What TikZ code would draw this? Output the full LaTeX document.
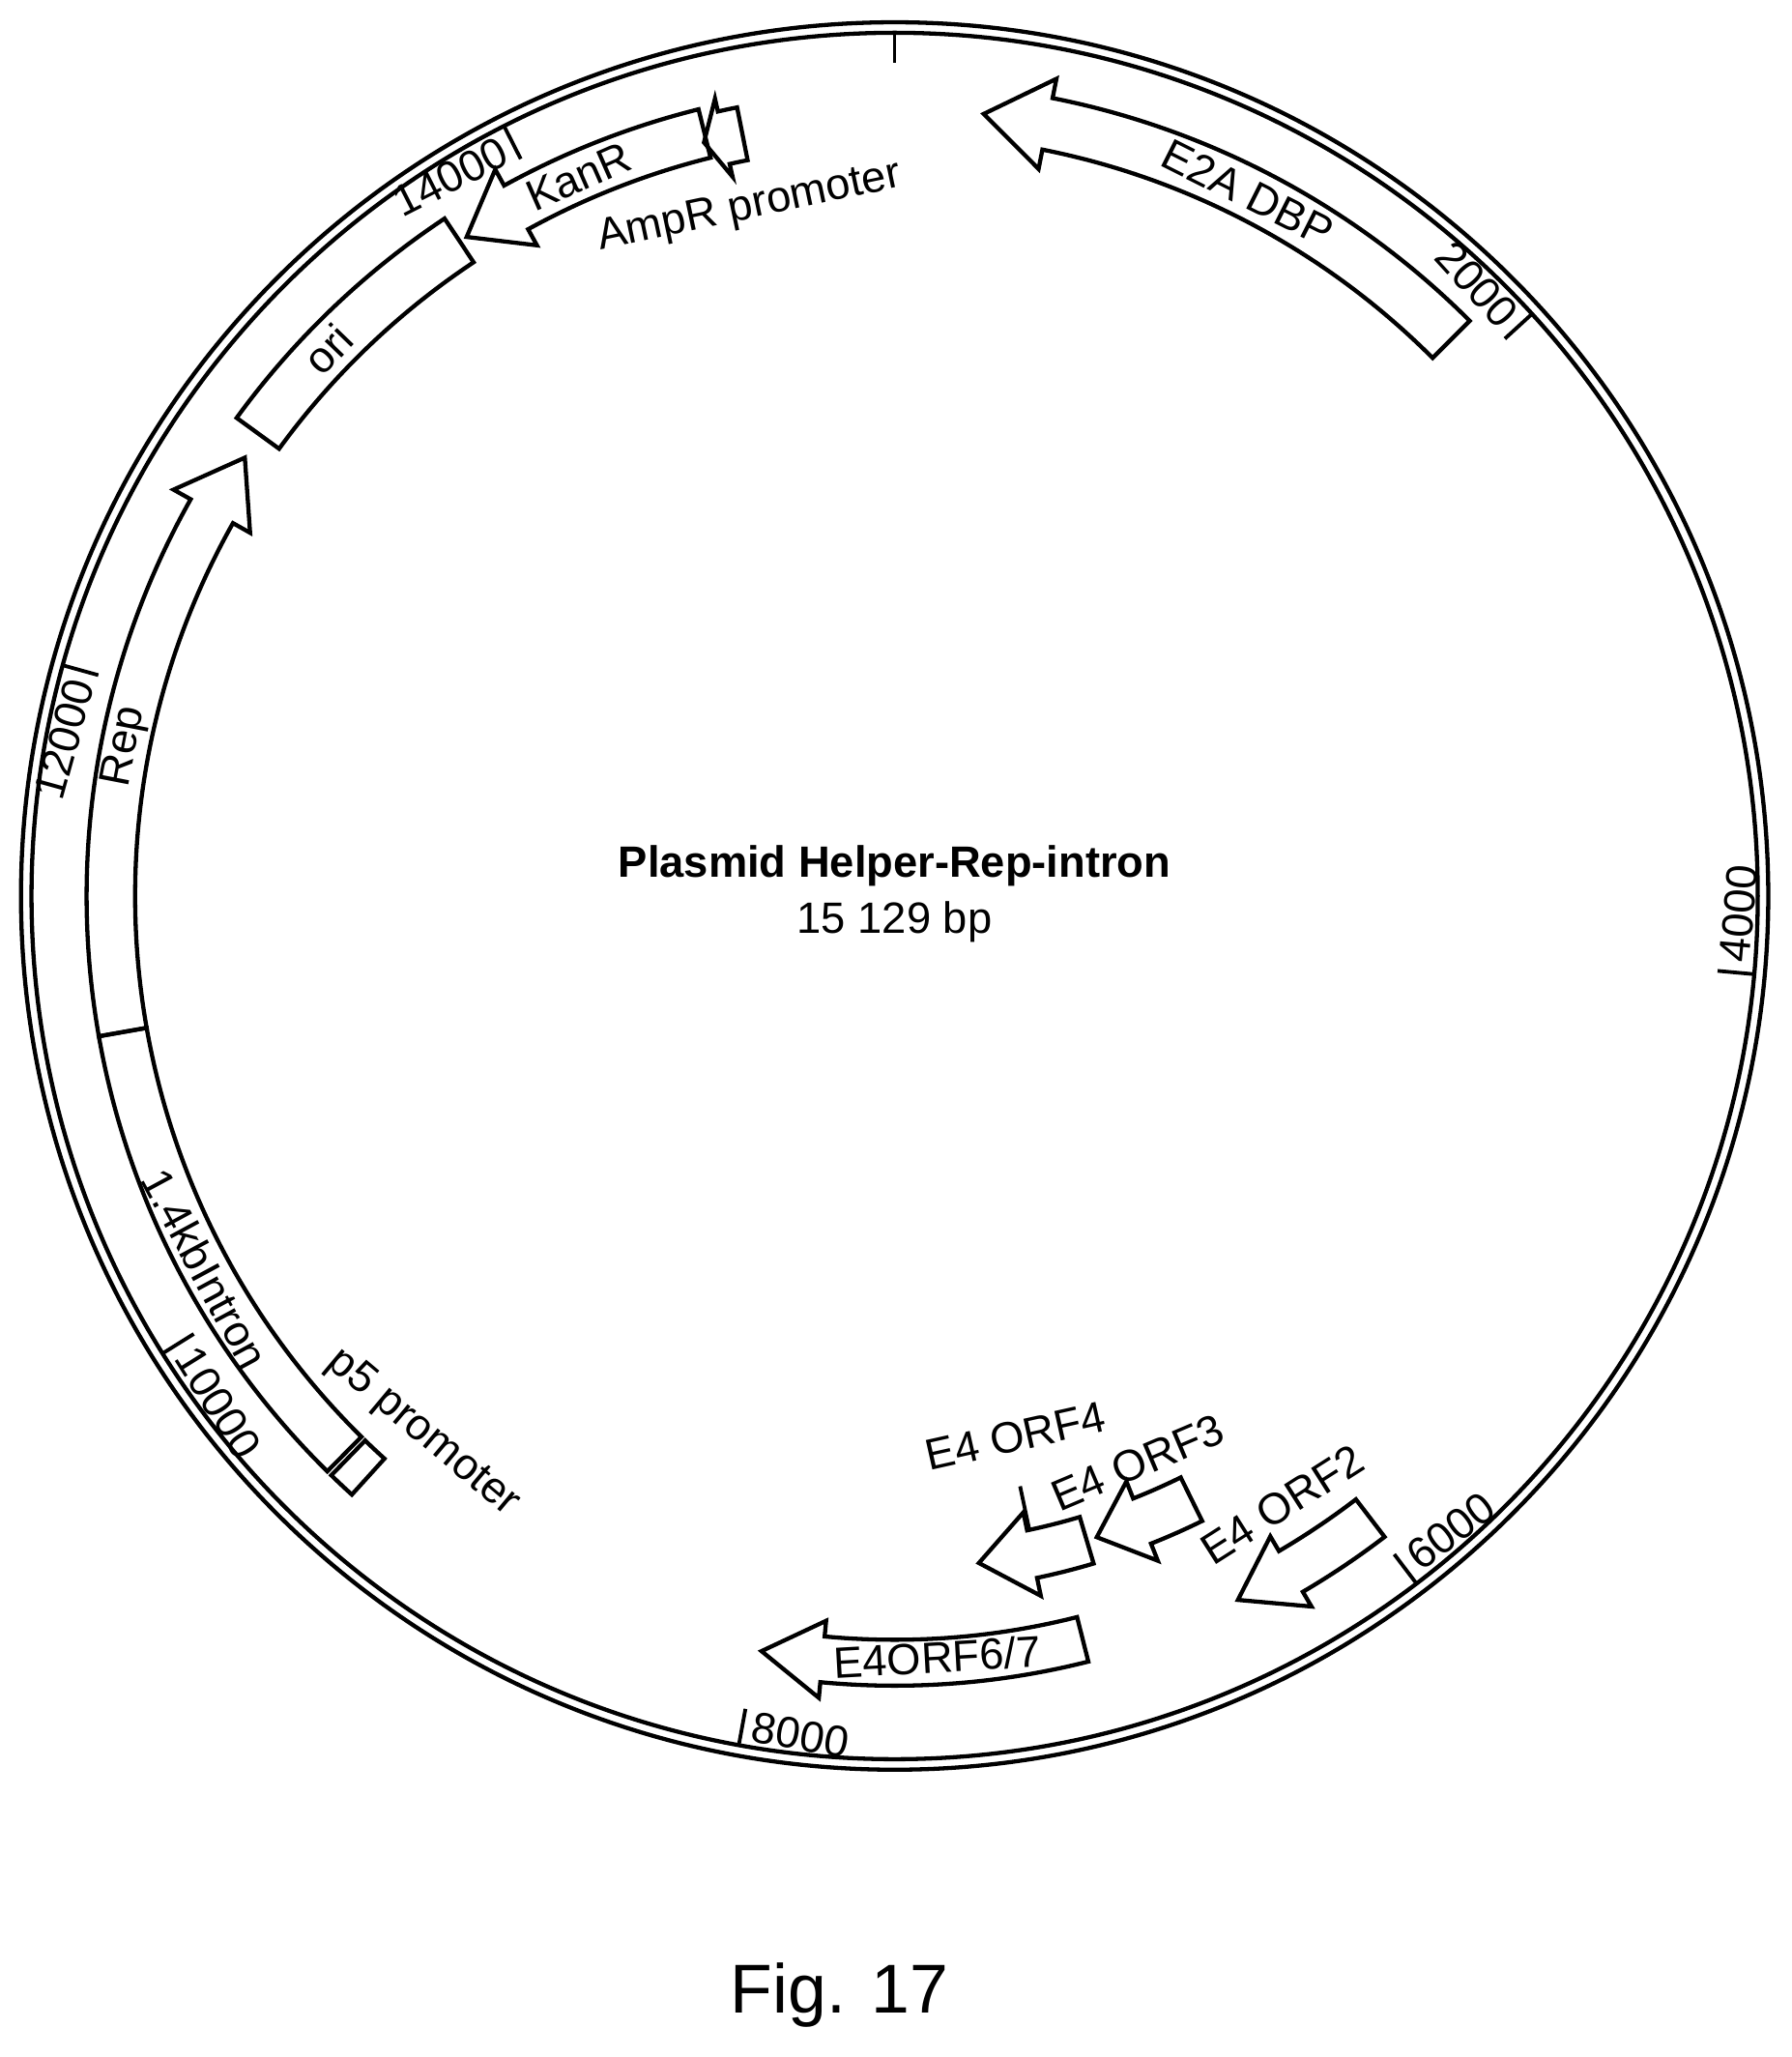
\documentclass[tikz,border=0pt]{standalone}
\usepackage{fontspec}
\setmainfont{Liberation Sans}
\tikzset{
  feat/.style={draw, line width=0.9pt, line join=miter},
  lbl/.style={font=\fontsize{9.5}{11}\selectfont, inner sep=1pt},
  num/.style={font=\fontsize{9.5}{11}\selectfont, inner sep=2pt},
  tickmark/.style={line width=0.8pt}
}
% arc arrow: tail, head base, tip, r in, r out, head in, head out
\newcommand{\arcarrow}[8]{%
  \draw[feat] (#1:#5) arc[start angle=#1, end angle=#2, radius=#5] -- (#2:#7)
    -- (#3:{(#4+#5)/2}) -- (#2:#6) -- (#2:#4)
    arc[start angle=#2, end angle=#1, radius=#4] -- cycle;
  \coordinate (#8) at ({(#1+#3)/2}:{(#4+#5)/2});}
% arc box: start, end, r in, r out
\newcommand{\arcbox}[5]{%
  \draw[feat] (#1:#4) arc[start angle=#1, end angle=#2, radius=#4] -- (#2:#3)
    arc[start angle=#2, end angle=#1, radius=#3] -- cycle;
  \coordinate (#5) at ({(#1+#2)/2}:{(#3+#4)/2});}
% tick with position label
\newcommand{\postick}[4]{%
  \draw[tickmark] (#1:6.58) -- (#1:6.3);
  \node[num, rotate=#2, anchor=#3] (n#4) at (#1:6.42) {#4};}
\begin{document}
\begin{tikzpicture}
\useasboundingbox (0,0) rectangle (13.66,15.68);
\begin{scope}[shift={(6.82,8.85)}]
  % backbone
  \draw[line width=0.9pt] (0,0) circle (6.66);
  \draw[line width=0.9pt] (0,0) circle (6.58);
  \draw[tickmark] (90:6.58) -- (90:6.35);
  % position marks
  \postick{42.4}{-47.6}{east}{2000}
  \postick{-5.2}{84.8}{west}{4000}
  \postick{-52.8}{37.2}{west}{6000}
  \postick{-100.4}{-10.4}{west}{8000}
  \postick{-148}{-58}{west}{10000}
  \postick{164.5}{74.5}{east}{12000}
  \postick{116.9}{26.9}{east}{14000}
  % features
  \arcarrow{45}{78.8}{83.5}{5.8}{6.2}{5.65}{6.35}{e2a}
  \arcarrow{104}{118.8}{123}{5.8}{6.18}{5.66}{6.32}{kanr}
  \arcarrow{101.3}{102.7}{104.2}{5.72}{6.13}{5.62}{6.23}{ampr}
  \arcbox{123.6}{144}{5.8}{6.2}{ori}
  \arcarrow{190}{150.6}{146}{5.79}{6.16}{5.64}{6.31}{rep}
  \arcbox{190}{225.4}{5.79}{6.16}{intron}
  \arcbox{225.8}{227.8}{5.79}{6.16}{p5}
  \arcarrow{-75.8}{-95.4}{-100}{5.67}{6.02}{5.55}{6.14}{orfsix}
  \arcarrow{-52.6}{-59.6}{-64}{5.79}{6.15}{5.66}{6.28}{orftwo}
  \arcarrow{-63.8}{-68.4}{-72.5}{4.94}{5.31}{4.8}{5.45}{orfthree}
  \arcarrow{-73.4}{-78.2}{-82.8}{4.94}{5.31}{4.8}{5.45}{orffour}
  % feature labels
  \node[lbl, rotate=-26.7] (le2a) at (63.3:6.0) {E2A DBP};
  \node[lbl, rotate=23.7] (lkanr) at (113.7:5.99) {KanR};
  \node[lbl, rotate=11.9] (lampr) at (101.9:5.36) {AmpR promoter};
  \node[lbl, rotate=46] (lori) at (136:6.0) {ori};
  \node[lbl, rotate=79] (lrep) at (169:5.975) {Rep};
  \node[lbl, rotate=-61.6] (lintron) at (-151.6:5.975) {1.4kbIntron};
  \node[lbl, rotate=-40] (lp5) at (-131.3:5.45) {p5 promoter};
  \node[lbl, rotate=3.2] (lorfsix) at (-86.8:5.81) {E4ORF6/7};
  \node[lbl, rotate=32.5] (lorftwo) at (-57.5:5.5) {E4 ORF2};
  \node[lbl, rotate=23] (lorfthree) at (-66.8:4.7) {E4 ORF3};
  \node[lbl, rotate=12.6] (lorffour) at (-77.4:4.22) {E4 ORF4};
  \coordinate (lead) at (-78:4.6);
  \draw[tickmark] (lead) -- (-78:4.94);
\end{scope}
\node[font=\fontsize{9.5}{11}\selectfont\bfseries] (title) at (6.82,9.08) {Plasmid Helper-Rep-intron};
\node[font=\fontsize{9.5}{11}\selectfont] (size) at (6.82,8.65) {15 129 bp};
\node[font=\fontsize{15}{17}\selectfont] (fig) at (6.40,0.47) {Fig. 17};
\end{tikzpicture}
\end{document}
